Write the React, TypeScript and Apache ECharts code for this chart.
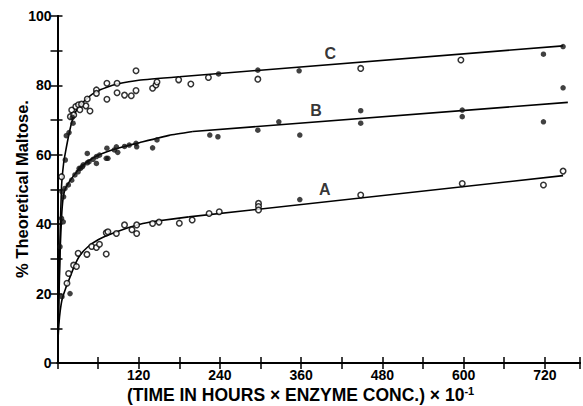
import React, { useEffect, useRef } from "react";
import * as echarts from "echarts";

// Axis tick labels
const xTickLabels = [120, 240, 360, 480, 600, 720];
const yTickLabels = [0, 20, 40, 60, 80, 100];

// Fitted curves: [time x conc., % maltose]; each ends in a straight run
const curveA = [
  [0.5, 6], [2, 11], [4, 15], [7, 18.5], [12, 21.5], [18, 24.5], [25, 28], [33, 31],
  [45, 33.5], [60, 35.5], [77, 37], [100, 38.7], [126, 40.2], [150, 41], [194, 42.1],
  [747, 54],
];
const curveB = [
  [0.5, 6], [2, 18], [4, 33], [6, 42], [8, 47], [11, 50], [16, 51.8], [21, 53.2],
  [26, 54.5], [32, 56], [44, 58], [57, 59.6], [73, 60.9], [88, 61.8], [101, 62.5],
  [121, 63.5], [165, 65.6], [200, 66.7], [754, 75.1],
];
const curveC = [
  [0.5, 6], [2, 20], [4, 38], [6, 51], [9, 57.5], [12, 61], [17, 66], [22, 70],
  [30, 73.5], [44, 76.3], [57, 78.2], [73, 79.5], [88, 80.4], [120, 81.5], [180, 82.5],
  [747, 91.4],
];

// Measured points, open and filled markers
const pointsCOpen = [
  [6, 53.7], [19, 71], [21, 72.9], [24, 71.5], [27, 73.9], [31, 74.4], [33, 73],
  [35.5, 74.6], [42, 74.1], [44, 76.1], [48, 72.6], [57.5, 78.7], [57.5, 77.7],
  [73, 80.6], [73, 76], [88, 80.6], [88, 77.9], [99, 77.2], [109, 77], [116, 78.5],
  [116, 84.2], [140.5, 79.2], [145.5, 80.1], [147, 81], [179, 81.6], [197, 80.4],
  [223, 82.3], [296, 81.8], [448, 84.9], [596, 87.3],
];
const pointsCFilled = [
  [11.5, 58.5], [13, 65.5], [17, 66.4], [22, 70.8], [23, 69.1], [238, 83.3],
  [296, 84.4], [357, 84.2], [718, 89], [747, 91.2],
];
const pointsBFilled = [
  [3.7, 33.5], [6, 41.7], [8.5, 40.7], [6.6, 49.4], [9, 47.9], [11, 50.3], [16, 51.3],
  [21, 52.7], [25.7, 54.2], [30.5, 55.1], [32, 56.1], [34, 56.1], [37, 56.6], [38, 57.1],
  [44, 57.7], [44, 60.4], [46.6, 58], [52.5, 58.7], [57.5, 59.5], [57.5, 57.5], [62, 59.9],
  [72, 59], [73, 61.9], [74.5, 59], [84, 61.4], [87, 62.3], [89, 60.7], [99, 62.4],
  [106, 62.8], [116, 63.3], [117, 62.3], [140.5, 62], [147, 64.3], [225, 65.7],
  [237, 65.2], [296, 67.1], [327, 69.5], [358, 65.7], [448, 72.7], [448, 69.1],
  [598, 72.9], [598, 71], [718, 69.5], [747, 79.3],
];
const pointsAOpen = [
  [14, 23], [16.4, 25.8], [23.8, 28.2], [28, 27.8], [30.5, 31.6], [43.5, 31.3],
  [50.5, 33.6], [57.5, 33.3], [62, 34.2], [72, 31.4], [72, 37.5], [74.5, 37.8],
  [87, 37.3], [99, 39.8], [110, 38.4], [117, 37.3], [117, 39.8], [140.5, 40.2],
  [150, 40.6], [180, 40.3], [199, 41.2], [224, 43.1], [239, 43.6], [297, 46],
  [297, 45.1], [297, 44.1], [448, 48.4], [598, 51.7], [718, 51.3], [747, 55.3],
];
const pointsAFilled = [[6.6, 19.1], [18.5, 20], [358, 47.1]];

// Curve labels
const curveLabels = [[403, 89.3, "C"], [382, 72.9, "B"], [395, 49.9, "A"]];

const FONT = "'Liberation Sans', Arial, Helvetica, sans-serif";
const INK = "#000";

export default function App() {
  const ref = useRef<HTMLDivElement>(null);

  useEffect(() => {
    if (!ref.current) return;
    const chart = echarts.init(ref.current, undefined, { renderer: "svg" });

    const axisLine = { show: true, lineStyle: { color: INK, width: 2 } };
    const tick = (len: number) => ({
      show: true,
      inside: true,
      length: len,
      lineStyle: { color: INK, width: 1.5 },
    });
    const labelStyle = {
      color: INK,
      fontFamily: FONT,
      fontWeight: "bold" as const,
      fontSize: 14,
    };

    // curved rise drawn smooth, the final straight run drawn as a plain segment
    const curveSeries = (pts: number[][]) => {
      const n = pts.length;
      return [
        {
          type: "line",
          data: pts.slice(0, n - 1),
          showSymbol: false,
          smooth: 0.15,
          lineStyle: { color: INK, width: 1.6 },
          z: 2,
          silent: true,
        },
        {
          type: "line",
          data: pts.slice(n - 2),
          showSymbol: false,
          smooth: false,
          lineStyle: { color: INK, width: 1.6 },
          z: 2,
          silent: true,
        },
      ];
    };
    const filled = (data: number[][]) => ({
      type: "scatter",
      data,
      symbol: "circle",
      symbolSize: 5.5,
      itemStyle: { color: "#111" },
      z: 3,
      silent: true,
    });
    const open = (data: number[][]) => ({
      type: "scatter",
      data,
      symbol: "circle",
      symbolSize: 5.5,
      itemStyle: { color: "#fff", borderColor: INK, borderWidth: 1.5 },
      z: 3,
      silent: true,
    });

    chart.setOption({
      animation: false,
      backgroundColor: "#fff",
      grid: { left: 57.5, right: -1, top: 16, bottom: 43, containLabel: false },
      xAxis: [
        {
          type: "value",
          position: "bottom",
          min: 0,
          max: 772,
          interval: 60,
          axisLine,
          axisTick: tick(6),
          splitLine: { show: false },
          axisLabel: {
            ...labelStyle,
            margin: 5,
            formatter: (v: number) => (xTickLabels.includes(v) ? String(v) : ""),
          },
        },
        {
          type: "value",
          position: "top",
          min: 0,
          max: 772,
          interval: 60,
          axisLine,
          axisTick: tick(6),
          splitLine: { show: false },
          axisLabel: { show: false },
        },
      ],
      yAxis: [
        {
          type: "value",
          position: "left",
          min: 0,
          max: 100,
          interval: 10,
          axisLine,
          axisTick: tick(5),
          splitLine: { show: false },
          axisLabel: {
            ...labelStyle,
            margin: 6,
            formatter: (v: number) => (yTickLabels.includes(v) ? String(v) : ""),
          },
        },
        {
          type: "value",
          position: "right",
          min: 0,
          max: 100,
          interval: 10,
          axisLine,
          axisTick: tick(7),
          splitLine: { show: false },
          axisLabel: { show: false },
        },
      ],
      graphic: [
        {
          type: "text",
          x: 22,
          y: 189,
          rotation: Math.PI / 2,
          silent: true,
          style: {
            text: "% Theoretical Maltose.",
            fontFamily: FONT,
            fontWeight: "bold",
            fontSize: 16.5,
            fill: INK,
            align: "center",
            verticalAlign: "middle",
          },
        },
        {
          type: "text",
          left: 127,
          top: 385,
          silent: true,
          style: {
            text: "{a|(TIME IN HOURS × ENZYME CONC.) × 10}{s|-1}",
            rich: {
              a: { fontFamily: FONT, fontWeight: "bold", fontSize: 17.5, fill: INK, lineHeight: 20 },
              s: { fontFamily: FONT, fontWeight: "bold", fontSize: 11, fill: INK, verticalAlign: "top", lineHeight: 20 },
            },
          },
        },
      ],
      series: [
        ...curveSeries(curveA),
        ...curveSeries(curveB),
        ...curveSeries(curveC),
        open(pointsCOpen),
        filled(pointsCFilled),
        filled(pointsBFilled),
        open(pointsAOpen),
        filled(pointsAFilled),
        {
          type: "scatter",
          data: curveLabels,
          symbolSize: 0,
          silent: true,
          label: {
            show: true,
            position: "inside",
            formatter: (p: any) => p.value[2],
            color: INK,
            fontFamily: FONT,
            fontWeight: "bold",
            fontSize: 16,
          },
        },
      ],
    });

    return () => chart.dispose();
  }, []);

  return (
    <div
      ref={ref}
      style={{ position: "absolute", left: 0, top: 0, width: 583, height: 406, background: "#fff" }}
    />
  );
}
